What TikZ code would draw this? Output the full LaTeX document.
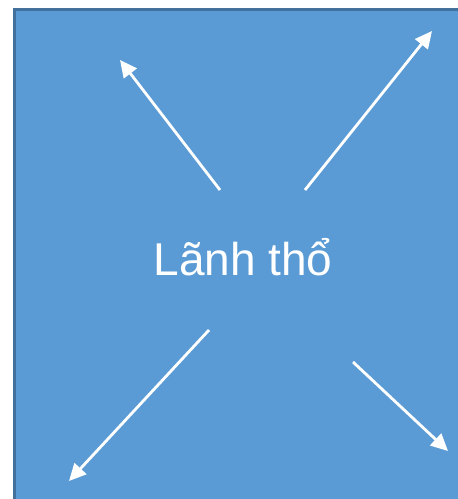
\documentclass[tikz,border=0pt]{standalone}
\usepackage{fontspec}
\setmainfont{Liberation Sans}
\usetikzlibrary{arrows.meta}
\definecolor{panelblue}{HTML}{5B9BD5}
\definecolor{paneledge}{HTML}{41719C}
\tikzset{
  outarrow/.style={draw=white, line width=2.8pt, -{Triangle[length=17pt,width=16pt]}},
  panel/.style={fill=panelblue, draw=paneledge, line width=3pt}
}
\begin{document}
\begin{tikzpicture}[x=1pt,y=1pt]
\useasboundingbox (0,0) rectangle (458,499);
\begin{scope}
\clip (0,0) rectangle (458,499);
\path[panel] (14,489) rectangle (475,-20);
\end{scope}
\node[text=white, font=\fontsize{46}{55}\selectfont] (c) at (243,242) {Lãnh thổ};
\coordinate (s1) at (220,309);
\coordinate (t1) at (120,439);
\coordinate (s2) at (305,309);
\coordinate (t2) at (432,468);
\coordinate (s3) at (209,169);
\coordinate (t3) at (69,18);
\coordinate (s4) at (353,137);
\coordinate (t4) at (448,48);
\draw[outarrow] (s1) -- (t1);
\draw[outarrow] (s2) -- (t2);
\draw[outarrow] (s3) -- (t3);
\draw[outarrow] (s4) -- (t4);
\end{tikzpicture}
\end{document}
